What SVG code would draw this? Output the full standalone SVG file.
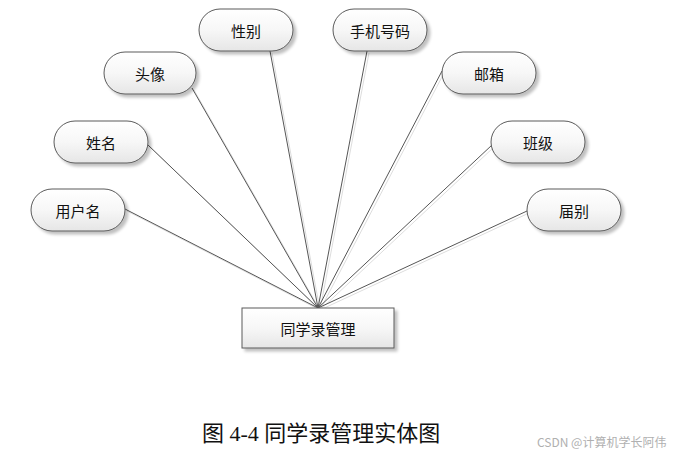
<svg xmlns="http://www.w3.org/2000/svg" width="680" height="456" viewBox="0 0 680 456">
<defs>
<linearGradient id="g" x1="0" y1="0" x2="0" y2="1">
<stop offset="0" stop-color="#ffffff"/>
<stop offset="0.5" stop-color="#f7f7f7"/>
<stop offset="1" stop-color="#e6e6e6"/>
</linearGradient>
<filter id="sh" x="-20%" y="-20%" width="140%" height="150%">
<feGaussianBlur in="SourceAlpha" stdDeviation="1.5"/>
<feOffset dx="3" dy="3" result="o"/>
<feComponentTransfer><feFuncA type="linear" slope="0.25"/></feComponentTransfer>
<feMerge><feMergeNode/><feMergeNode in="SourceGraphic"/></feMerge>
</filter>
</defs>
<style>
.pill{fill:url(#g);stroke:#5a5a5a;stroke-width:1;filter:url(#sh)}
.box{fill:url(#g);stroke:#5a5a5a;stroke-width:1;filter:url(#sh)}
.t{font-family:"Noto Sans CJK SC","Liberation Sans",sans-serif;font-size:15px;fill:#111;text-anchor:middle;dominant-baseline:central}
.ln{stroke:#555;stroke-width:1;fill:none}
.lns{stroke:#ddd;stroke-width:1;fill:none}
.cap{font-family:"Liberation Serif","Noto Sans CJK SC",serif;font-size:22px;fill:#111}
.wm{font-family:"Noto Sans CJK SC","Liberation Sans",sans-serif;font-size:12px;fill:#b0b0b0}
</style>
<g id="connectors">
<g transform="translate(2,2)">
<path class="lns" d="M125,209 L318,308 M148,145 L318,308 M192,88 L318,308 M270,51 L318,308 M367,51 L318,308 M442,71 L318,308 M492,145 L318,308 M527,211 L318,308"/>
</g>
<path class="ln" d="M125,209 L318,308 M148,145 L318,308 M192,88 L318,308 M270,51 L318,308 M367,51 L318,308 M442,71 L318,308 M492,145 L318,308 M527,211 L318,308"/>
</g>
<g id="n-xingbie"><rect class="pill" x="199" y="9" width="94" height="42" rx="21"/><text class="t" x="246" y="30">性别</text></g>
<g id="n-shouji"><rect class="pill" x="333" y="9" width="94" height="42" rx="21"/><text class="t" x="380" y="30">手机号码</text></g>
<g id="n-touxiang"><rect class="pill" x="104" y="52" width="92" height="42" rx="21"/><text class="t" x="150" y="73">头像</text></g>
<g id="n-youxiang"><rect class="pill" x="442" y="52" width="94" height="42" rx="21"/><text class="t" x="489" y="73">邮箱</text></g>
<g id="n-xingming"><rect class="pill" x="54" y="121" width="94" height="42" rx="21"/><text class="t" x="101" y="142">姓名</text></g>
<g id="n-banji"><rect class="pill" x="491" y="121" width="94" height="42" rx="21"/><text class="t" x="538" y="142">班级</text></g>
<g id="n-yonghuming"><rect class="pill" x="31" y="189" width="94" height="42" rx="21"/><text class="t" x="78" y="210">用户名</text></g>
<g id="n-jiebie"><rect class="pill" x="527" y="189" width="94" height="42" rx="21"/><text class="t" x="574" y="210">届别</text></g>
<g id="n-main"><rect class="box" x="242" y="308" width="152" height="40"/><text class="t" x="318" y="328">同学录管理</text></g>
<text class="cap" x="202" y="441">图 4-4 同学录管理实体图</text>
<text class="wm" x="537" y="447">CSDN @计算机学长阿伟</text>
</svg>
